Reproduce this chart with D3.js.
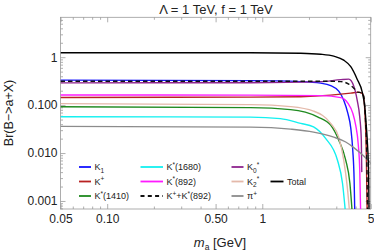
<!DOCTYPE html>
<html>
<head>
<meta charset="utf-8">
<script src="https://cdn.jsdelivr.net/npm/d3@7"></script>
<style>
  body { margin: 0; background: #fff; }
  svg text { font-family: "Liberation Sans", Arial, sans-serif; }
</style>
</head>
<body>
<script>
'use strict';

// [m_a in GeV, Br] pairs
const seriesK1 = [[0.05, 0.332], [0.84, 0.324], [1.77, 0.309], [2.38, 0.287], [2.76, 0.255], [3.11, 0.196],
  [3.35, 0.127], [3.56, 0.068], [3.72, 0.0332], [3.83, 0.0116], [3.91, 0.00274], [3.95, 0.0005]];
const seriesKplus = [[0.05, 0.1446], [0.84, 0.147], [1.77, 0.150], [2.76, 0.1616], [3.72, 0.178], [4.19, 0.187],
  [4.45, 0.170], [4.58, 0.0787], [4.68, 0.0116], [4.75, 0.0005]];
const seriesK1410 = [[0.05, 0.0922], [0.84, 0.0887], [1.52, 0.0806], [2.27, 0.0571], [2.76, 0.0383], [3.11, 0.0187],
  [3.45, 0.00715], [3.67, 0.00237], [3.81, 0.0005]];
const seriesK1680 = [[0.05, 0.0571], [0.84, 0.0562], [1.31, 0.0523], [1.77, 0.0416], [2.14, 0.0353], [2.56, 0.0202],
  [3.05, 0.00715], [3.29, 0.00234], [3.45, 0.0005]];
const seriesK892 = [[0.05, 0.163], [0.84, 0.1616], [2.38, 0.158], [3.21, 0.143], [3.56, 0.110], [3.83, 0.068],
  [4.0, 0.0383], [4.16, 0.0147], [4.25, 0.00443], [4.31, 0.0005]];
const seriesKsum = [[0.05, 0.316], [0.84, 0.316], [2.38, 0.316], [3.21, 0.309], [3.61, 0.274], [3.89, 0.226],
  [4.13, 0.187], [4.31, 0.182], [4.51, 0.154], [4.61, 0.0619], [4.72, 0.00715], [4.77, 0.0005]];
const seriesK0 = [[0.05, 0.291], [0.84, 0.294], [2.38, 0.309], [3.21, 0.340], [3.61, 0.348], [3.89, 0.249],
  [4.09, 0.127], [4.25, 0.0562], [4.35, 0.0187], [4.38, 0.0040]];
const seriesK2 = [[0.05, 0.1075], [0.84, 0.1024], [1.52, 0.0931], [2.14, 0.075], [2.76, 0.0416], [3.11, 0.0215],
  [3.35, 0.00715], [3.53, 0.00199], [3.67, 0.0005]];
const seriesPi = [[0.05, 0.036], [0.84, 0.0348], [1.52, 0.0316], [2.14, 0.0274], [2.89, 0.0215], [3.45, 0.0170],
  [3.89, 0.0130], [4.51, 0.00866], [5.06, 0.0059]];
const seriesTotal = [[0.05, 1.241], [0.84, 1.241], [1.77, 1.211], [2.38, 1.155], [2.89, 1.049], [3.35, 0.866],
  [3.72, 0.634], [4.09, 0.348], [4.41, 0.187], [4.58, 0.0908], [4.68, 0.0383], [4.77, 0.0147], [4.85, 0.00348], [4.88, 0.0005]];

// legend labels as [text, kind] pieces
const labelK1 = [["K", ""], ["1", "sub"]];
const labelKplus = [["K", ""], ["+", "sup"]];
const labelK1410 = [["K", ""], ["*", "sup"], ["(1410)", ""]];
const labelK1680 = [["K", ""], ["*", "sup"], ["(1680)", ""]];
const labelK892 = [["K", ""], ["*", "sup"], ["(892)", ""]];
const labelKsum = [["K", ""], ["+", "sup"], ["+K", ""], ["*", "sup"], ["(892)", ""]];
const labelK0 = [["K", ""], ["0", "sub"], ["*", "sup"]];
const labelK2 = [["K", ""], ["2", "sub"], ["*", "sup"]];
const labelPi = [["π", ""], ["+", "sup"]];
const labelTotal = [["Total", ""]];

const xMajor = [0.05, 0.1, 0.5, 1, 5];
const xMajorLabels = ["0.05", "0.10", "0.50", "1", "5"];
const yMajor = [0.001, 0.01, 0.1, 1];
const yMajorLabels = ["0.001", "0.010", "0.100", "1"];

(function() {

  let svgContainer = "";

  const left = 60.5, right = 370.7, top = 17.3, bottom = 209;

  let xScale = d3.scaleLog().domain([0.05, 5]).range([left, right]);
  let yScale = d3.scaleLog().domain([0.00068, 6.8]).range([bottom, top]);

  // draw order, colours and dash of each curve
  let curves = [
    { data: seriesK1, label: labelK1, color: "#1414ff", dash: null },
    { data: seriesKplus, label: labelKplus, color: "#b82222", dash: null },
    { data: seriesK1410, label: labelK1410, color: "#1f8a1f", dash: null },
    { data: seriesK1680, label: labelK1680, color: "#14f0f0", dash: null },
    { data: seriesK892, label: labelK892, color: "#ff1aff", dash: null },
    { data: seriesK0, label: labelK0, color: "#8e248e", dash: null },
    { data: seriesK2, label: labelK2, color: "#e4b9aa", dash: null },
    { data: seriesPi, label: labelPi, color: "#8c8c8c", dash: null },
    { data: seriesKsum, label: labelKsum, color: "#111", dash: "4.5,3" },
    { data: seriesTotal, label: labelTotal, color: "#000", dash: null }
  ];

  window.onload = function() {
    svgContainer = d3.select('body')
      .append('svg')
      .attr('width', 374)
      .attr('height', 251);

    drawAxes();
    plotData();
    drawLegend();
    makeLabels();
  }

  function drawAxes() {
    let grey = "#9a9a9a";
    let xMinor = xScale.ticks().filter(t => xMajor.indexOf(t) < 0 && t < 5);
    let yMinor = yScale.ticks().filter(t => yMajor.indexOf(t) < 0);

    let axes = [
      [d3.axisLeft, yScale, `translate(${left},0)`, yMajor, yMajorLabels, yMinor],
      [d3.axisRight, yScale, `translate(${right},0)`, yMajor, null, yMinor],
      [d3.axisBottom, xScale, `translate(0,${bottom})`, xMajor, xMajorLabels, xMinor],
      [d3.axisTop, xScale, `translate(0,${top})`, xMajor, null, xMinor]
    ];

    axes.forEach(function(a) {
      let major = a[0](a[1]).tickValues(a[3]).tickSize(-5).tickPadding(a[0] == d3.axisBottom ? 5 : 3)
        .tickFormat(function(d, i) { return a[4] ? a[4][i] : ""; });
      let minor = a[0](a[1]).tickValues(a[5]).tickSize(-2.5).tickFormat("");
      [major, minor].forEach(function(ax) {
        let g = svgContainer.append('g').attr('transform', a[2]).call(ax);
        g.select('.domain').remove();
        g.selectAll('line').attr('stroke', grey).attr('stroke-width', 0.8);
        g.selectAll('text').attr('fill', '#222').style('font-size', '12px');
      });
    });

    svgContainer.append('rect')
      .attr('x', left).attr('y', top)
      .attr('width', right - left).attr('height', bottom - top)
      .attr('fill', 'none').attr('stroke', grey).attr('stroke-width', 0.8);
  }

  function plotData() {
    svgContainer.append('clipPath').attr('id', 'plotclip')
      .append('rect')
      .attr('x', left).attr('y', top)
      .attr('width', right - left).attr('height', bottom - top);

    let line = d3.line()
      .x(d => xScale(d[0]))
      .y(d => yScale(Math.max(d[1], 0.0003)))
      .curve(d3.curveMonotoneX);

    svgContainer.append('g').attr('clip-path', 'url(#plotclip)')
      .selectAll('path')
      .data(curves)
      .enter()
      .append('path')
        .attr('d', d => line(d.data))
        .attr('fill', 'none')
        .attr('stroke', d => d.color)
        .attr('stroke-width', 1.4)
        .attr('stroke-dasharray', d => d.dash);
  }

  function addRichText(sel, pieces) {
    let shift = 0;
    pieces.forEach(function(p) {
      let target = p[1] == "sub" ? 2.5 : (p[1] == "sup" ? -3.5 : 0);
      sel.append('tspan')
        .attr('dy', target - shift)
        .style('font-size', p[1] ? '6.5px' : '9px')
        .text(p[0]);
      shift = target;
    });
  }

  function drawLegend() {
    // legend slot for each curve: column x of line, line length, row
    let slots = new Map([
      [labelK1, [79, 12, 0]], [labelKplus, [79, 12, 1]], [labelK1410, [79, 12, 2]],
      [labelK1680, [140.5, 22.5, 0]], [labelK892, [140.5, 22.5, 1]], [labelKsum, [140.5, 22.5, 2]],
      [labelK0, [231.5, 12, 0]], [labelK2, [231.5, 12, 1]], [labelPi, [231.5, 12, 2]],
      [labelTotal, [270.5, 13, 1]]
    ]);
    let rowY = [167, 181.5, 196];

    let items = svgContainer.append('g').selectAll('g')
      .data(curves)
      .enter().append('g')
      .attr('transform', d => {
        let s = slots.get(d.label);
        return `translate(${s[0]},${rowY[s[2]]})`;
      });

    items.append('line')
      .attr('x1', 0)
      .attr('x2', d => slots.get(d.label)[1])
      .attr('stroke', d => d.color)
      .attr('stroke-width', 1.8)
      .attr('stroke-dasharray', d => d.dash ? "4,3.3" : null);

    items.append('text')
      .attr('x', d => slots.get(d.label)[1] + 3.5)
      .attr('y', 3.2)
      .attr('fill', '#222')
      .each(function(d) { addRichText(d3.select(this), d.label); });
  }

  function makeLabels() {
    svgContainer.append('text')
      .attr('x', 216)
      .attr('y', 14)
      .attr('text-anchor', 'middle')
      .attr('fill', '#222')
      .style('font-size', '13px')
      .text('Λ = 1 TeV, f = 1 TeV');

    let xl = svgContainer.append('text')
      .attr('x', 220)
      .attr('y', 247)
      .attr('text-anchor', 'middle')
      .attr('fill', '#222')
      .style('font-size', '13px');
    xl.append('tspan').style('font-style', 'italic').text('m');
    xl.append('tspan').attr('dy', 3).style('font-size', '8.5px').text('a');
    xl.append('tspan').attr('dy', -3).text(' [GeV]');

    svgContainer.append('text')
      .attr('transform', 'translate(13,113)rotate(-90)')
      .attr('text-anchor', 'middle')
      .attr('fill', '#222')
      .style('font-size', '12.5px')
      .text('Br(B\u2212>a+X)');
  }

})();
</script>
</body>
</html>
